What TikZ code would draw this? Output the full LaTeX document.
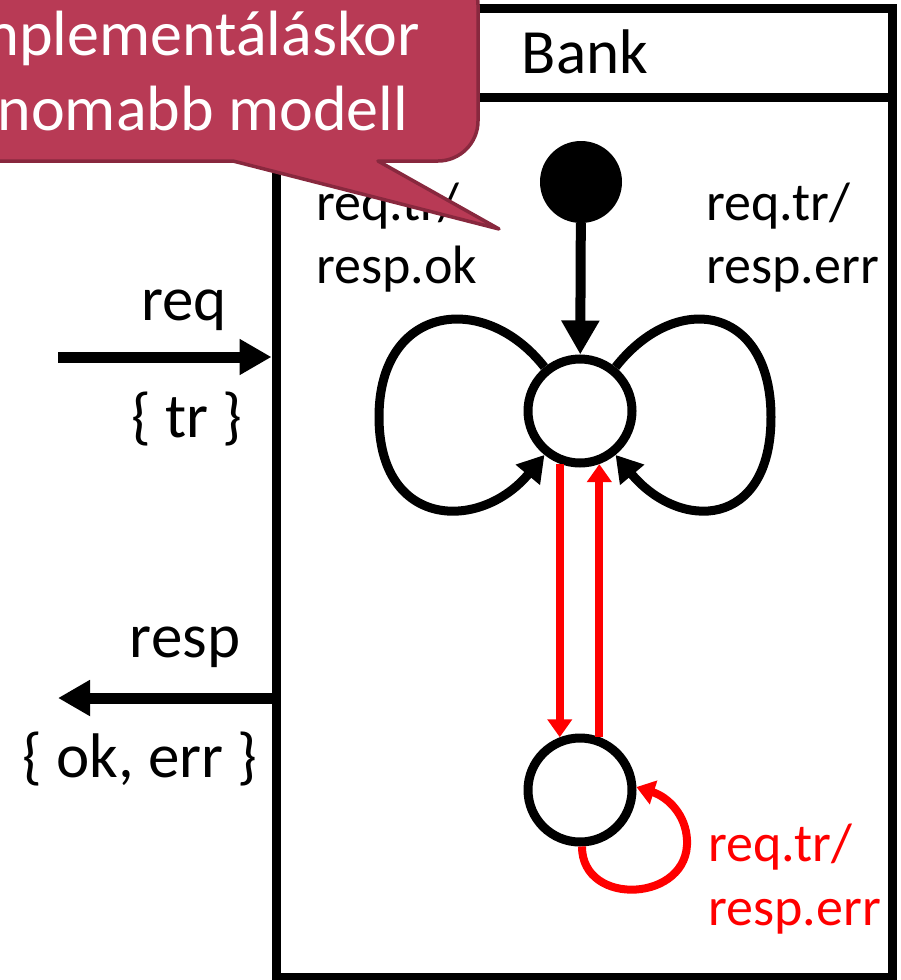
\documentclass[tikz,border=0pt]{standalone}
\usepackage{fontspec}
\setmainfont{Carlito}
\usetikzlibrary{arrows.meta,calc}
\definecolor{calloutfill}{RGB}{184,58,85}
\definecolor{calloutline}{RGB}{136,40,62}
\definecolor{redline}{RGB}{255,0,0}
\begin{document}
\begin{tikzpicture}[x=1pt,y=-1pt,
  statebox/.style={circle,draw=black,fill=white,line width=9pt,minimum size=104pt,inner sep=0pt},
  initdot/.style={circle,fill=black,minimum size=82pt,inner sep=0pt},
  boxline/.style={line width=9pt},
  portfont/.style={font=\fontsize{63pt}{70pt}\selectfont,inner sep=0pt},
  titlefont/.style={font=\fontsize{63pt}{70pt}\selectfont,inner sep=0pt},
  lblfont/.style={font=\fontsize{54pt}{60pt}\selectfont,inner sep=0pt},
  callfont/.style={font=\fontsize{64pt}{75pt}\selectfont,inner sep=0pt,text=white},
  portarrow/.style={line width=11pt,-{Triangle[width=34pt,length=32pt]}},
  initarrow/.style={line width=10pt,-{Triangle[width=36pt,length=34pt]}},
  loopedge/.style={line width=9pt,-{Triangle[width=30pt,length=26pt]}},
  redarrow/.style={draw=redline,line width=8pt,-{Triangle[width=24pt,length=18pt]}},
  calloutshape/.style={fill=calloutfill,draw=calloutline,line width=3.5pt,line join=round}
]
\useasboundingbox (0,0) rectangle (901,980);
\clip (0,0) rectangle (901,980);

% Bank box
\node[draw=black,line width=9pt,minimum width=616pt,minimum height=969pt,inner sep=0pt] (bank) at (584,492.5) {};
\coordinate (hdr) at (0,97);
\draw[boxline] (hdr -| bank.west) -- (hdr -| bank.east);
\node[titlefont,anchor=base] (title) at (585,73) {Bank};

% states
\node[initdot] (init) at (581,182) {};
\node[statebox] (s1) at (580,411) {};
\node[statebox] (s2) at (580,790) {};

\draw[initarrow] (init) -- (s1);

% self loops on s1
\draw[loopedge] (s1.129) .. controls (484,290) and (379,305) .. (379,417)
  .. controls (379,529) and (480,532) .. (s1.231);
\draw[loopedge] (s1.51) .. controls (676,290) and (771,305) .. (771,417)
  .. controls (771,529) and (680,532) .. (s1.-51);

% red transitions
\draw[redarrow] (s1.-111) -- (s2.111);
\draw[redarrow] (s2.70) -- (s1.-70);
\draw[redarrow] (s2.-88) .. controls (582,908) and (690,902) .. (687,840)
  .. controls (686,815) and (668,797) .. (s2.3);

% state labels
\node[lblfont,anchor=base west] (l1a) at (316,220) {req.tr/};
\node[lblfont,anchor=base west] (l1b) at (316,283) {resp.ok};
\node[lblfont,anchor=base west] (l2a) at (706,220) {req.tr/};
\node[lblfont,anchor=base west] (l2b) at (706,283) {resp.err};
\node[lblfont,anchor=base west,text=redline] (l3a) at (708,861) {req.tr/};
\node[lblfont,anchor=base west,text=redline] (l3b) at (708,925) {resp.err};

% ports
\coordinate (reqtail) at (58,357);
\draw[portarrow] (reqtail) -- (reqtail -| bank.west);
\coordinate (resphead) at (58,698);
\draw[portarrow] (resphead -| bank.west) -- (resphead);
\node[portfont,anchor=base] (reqlbl) at (184,320) {req};
\node[portfont,anchor=base] (trlbl) at (187,437) {\{ tr \}};
\node[portfont,anchor=base] (resplbl) at (185,657) {resp};
\node[portfont,anchor=base] (oklbl) at (140,777) {\{ ok, err \}};

% callout
\path[calloutshape] (-40,161) -- (233,161) -- (499,229) -- (378,161) -- (438,161)
  .. controls (460,161) and (478,143) .. (478,121) -- (478,5)
  .. controls (478,-17) and (460,-35) .. (438,-35) -- (-40,-35) -- cycle;
\node[callfont,anchor=base] (call1) at (186,55) {Implementáláskor};
\node[callfont,anchor=base] (call2) at (186,130) {finomabb modell};
\end{tikzpicture}
\end{document}
